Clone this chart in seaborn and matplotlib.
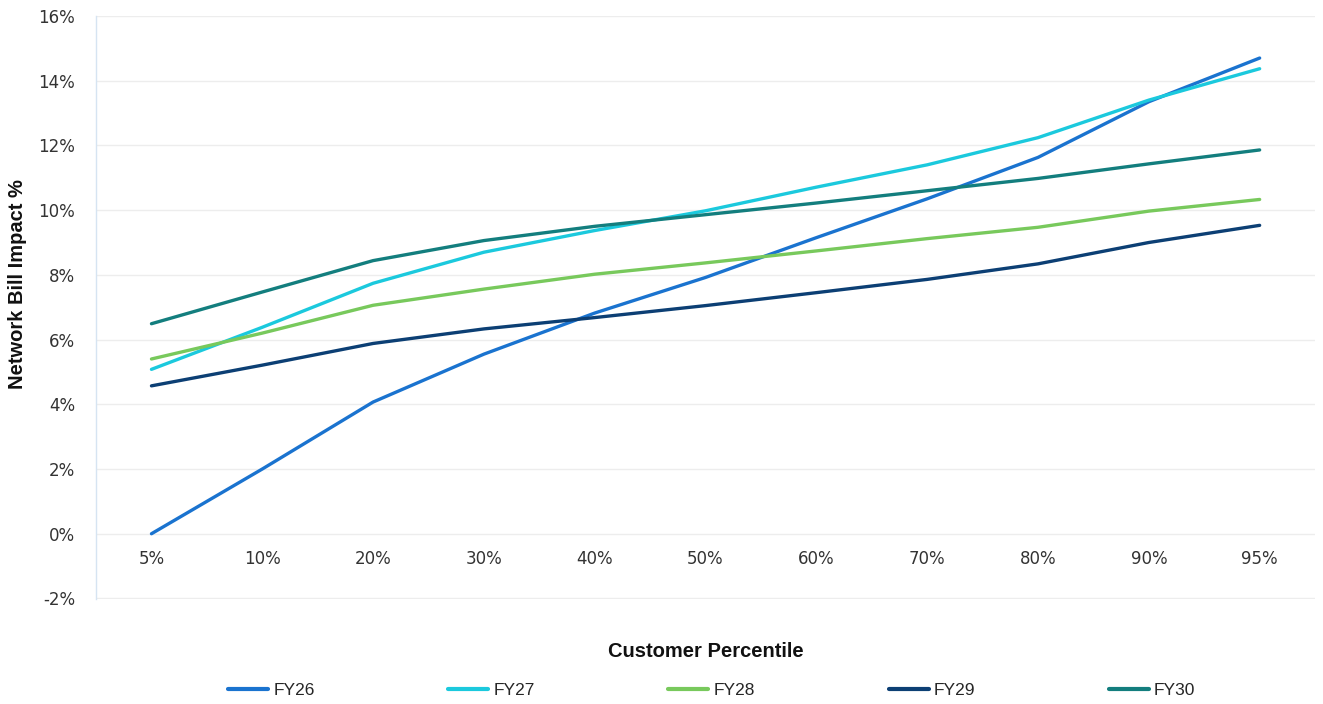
import matplotlib
matplotlib.use("Agg")
import matplotlib.pyplot as plt
import seaborn as sns
import pandas as pd
from matplotlib.ticker import FuncFormatter

# Customer percentiles on the x axis
percentiles = ["5%", "10%", "20%", "30%", "40%", "50%", "60%", "70%", "80%", "90%", "95%"]

# Network bill impact (%) by financial year
fy26 = [0.0, 2.0, 4.07, 5.55, 6.82, 7.92, 9.15, 10.35, 11.63, 13.35, 14.70]
fy27 = [5.08, 6.38, 7.74, 8.70, 9.37, 9.98, 10.71, 11.40, 12.24, 13.40, 14.37]
fy28 = [5.40, 6.20, 7.06, 7.56, 8.02, 8.37, 8.74, 9.12, 9.47, 9.97, 10.33]
fy29 = [4.57, 5.21, 5.88, 6.33, 6.68, 7.05, 7.45, 7.86, 8.34, 9.00, 9.53]
fy30 = [6.49, 7.47, 8.44, 9.06, 9.50, 9.86, 10.22, 10.60, 10.98, 11.43, 11.86]

series_names = ["FY26", "FY27", "FY28", "FY29", "FY30"]
series_values = [fy26, fy27, fy28, fy29, fy30]
colors = ["#1A73CF", "#1BC9DD", "#78C95C", "#0C3F74", "#137E7E"]

rows = []
for name, vals in zip(series_names, series_values):
    for i, v in enumerate(vals):
        rows.append({"pos": i, "impact": v, "year": name})
df = pd.DataFrame(rows)

sns.set_theme(style="white")
plt.rcParams["font.family"] = ["DejaVu Sans"]
title_font = ["Liberation Sans", "DejaVu Sans"]

fig = plt.figure(figsize=(13.23, 7.04), dpi=100)
ax = fig.add_axes([0.0726, 0.149, 0.9214, 0.8283])

sns.lineplot(data=df, x="pos", y="impact", hue="year",
             palette=dict(zip(series_names, colors)),
             linewidth=2.4, ax=ax, legend=False)

ax.set_xlim(-0.5, len(percentiles) - 0.5)
ax.set_ylim(-2.02, 16)
ax.set_yticks(range(-2, 17, 2))
ax.yaxis.set_major_formatter(FuncFormatter(lambda v, _: f"{int(round(v))}%"))
ax.set_xticks(range(len(percentiles)))
ax.set_xticklabels(percentiles)

ax.grid(axis="y", color="#EDEDED", linewidth=1.0)
ax.grid(axis="x", visible=False)
ax.set_axisbelow(True)
for side in ["top", "right"]:
    ax.spines[side].set_visible(False)
# horizontal axis crosses at zero; its labels hang just below that line
ax.spines["bottom"].set_position(("data", 0))
ax.spines["bottom"].set_color("none")
ax.spines["left"].set_color("#D6E4F2")
ax.spines["left"].set_linewidth(1.0)
ax.tick_params(axis="both", length=0, labelsize=12, colors="#333333")
ax.tick_params(axis="y", pad=15)
ax.tick_params(axis="x", pad=12)

ax.set_xlabel("Customer Percentile", fontsize=14.5, fontweight="bold",
              family=title_font, color="#111111")
ax.xaxis.set_label_coords(0.5, -0.073)
ax.set_ylabel("Network Bill Impact %", fontsize=14.5, fontweight="bold",
              family=title_font, color="#111111")
ax.yaxis.set_label_coords(-0.057, 0.54)

handles = [plt.Line2D([], [], color=c, linewidth=3) for c in colors]
fig.legend(handles, series_names, loc="center", ncol=5,
           bbox_to_anchor=(0.538, 0.019), frameon=False,
           handlelength=2.3, handletextpad=0.3, columnspacing=7.7,
           prop={"family": title_font, "size": 12.5})

fig.savefig("out.png", dpi=100)
